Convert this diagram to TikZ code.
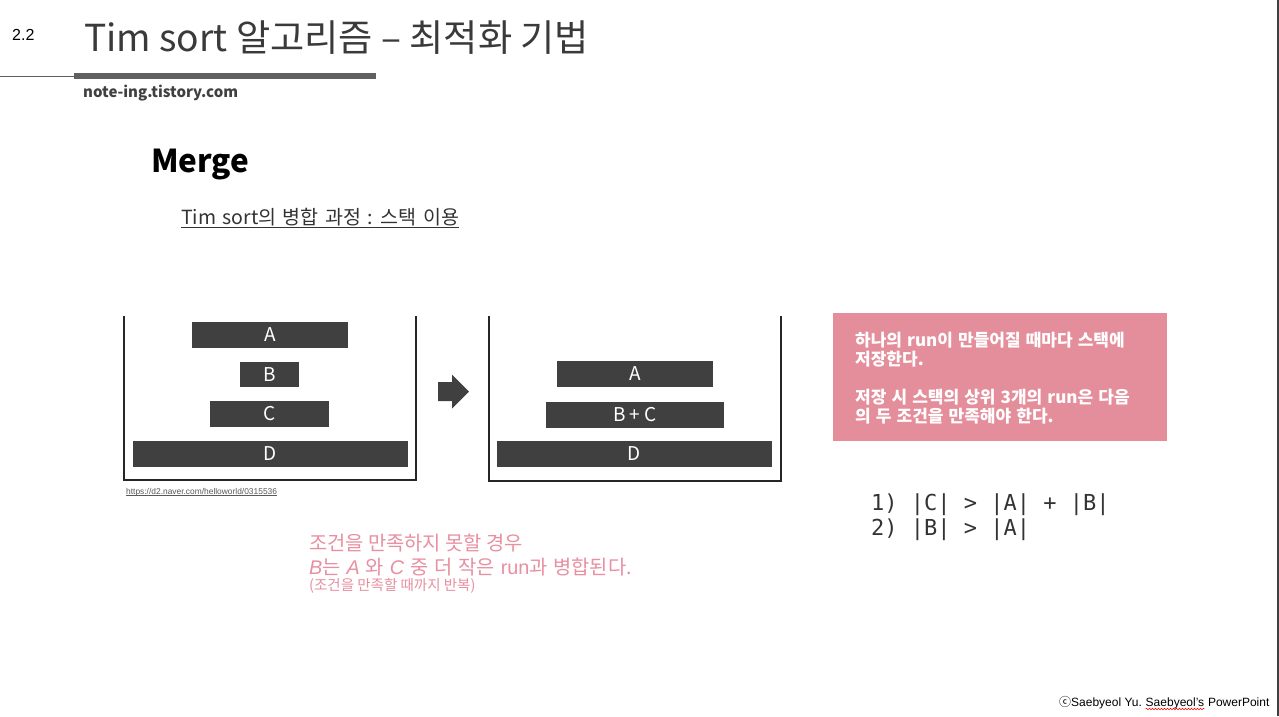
\documentclass[tikz,border=0pt]{standalone}
\usepackage{fontspec}
\setmainfont{Noto Sans CJK KR}
\newfontfamily\kr{Noto Sans CJK KR}
\newfontfamily\arial{Liberation Sans}
\newfontfamily\mono{DejaVu Sans Mono}
\usetikzlibrary{decorations.pathmorphing}
\definecolor{barc}{HTML}{404040}
\definecolor{pinkbox}{HTML}{E48D9B}
\definecolor{pinktxt}{HTML}{E88FA0}
\definecolor{titlec}{HTML}{3A3A3A}
\definecolor{rulec}{HTML}{606060}
\newcommand{\fs}[1]{\fontsize{#1pt}{#1pt}\selectfont}
\newcommand{\wsp}[1]{\spaceskip=#1\relax}
\tikzset{
  runbar/.style={fill=barc, draw=none, inner sep=0pt, text=white, font=\kr\fs{19}},
  stackbox/.style={line width=1.8pt, draw=black!85},
  txt/.style={anchor=base west, inner sep=0pt},
  pinkline/.style={txt, text=white, font=\kr\bfseries\fs{17}},
  condline/.style={txt, text=black!80, font=\mono\fs{22}},
  notetxt/.style={txt, text=pinktxt},
  foottxt/.style={txt, font=\arial\fs{12}},
}
\begin{document}
\begin{tikzpicture}[x=1pt,y=-1pt]
\useasboundingbox (0,0) rectangle (1279,716);
\fill[white] (0,0) rectangle (1279,716);
\draw[black!75, line width=1.2pt] (1278,0) -- (1278,716);

% header
\node[txt, font=\arial\fs{16}] (num) at (12,40) {2.2};
\node[txt, text=titlec, font=\kr\fs{37.2}] (title) at (84,51) {Tim sort 알고리즘 – 최적화 기법};
\draw[rulec, line width=0.8pt] (0,76) -- (75,76);
\fill[rulec] (74,73) rectangle (376,78.5);
\node[txt, text=black!75, font=\kr\bfseries\fs{15}] (blog) at (83,97) {note-ing.tistory.com};

\node[txt, font=\kr\bfseries\fs{31.5}] (merge) at (151,172) {Merge};
\node[txt, text=black!80, font=\kr\fs{19.5}] (sub) at (181,224) {\wsp{0.33em}Tim sort의 병합 과정 : 스택 이용};
\draw[black!80, line width=1pt] ([yshift=-3.5pt]sub.base west) -- ([yshift=-3.5pt]sub.base east);

% left stack
\draw[stackbox] (124,316) -- (124,480) -- (416,480) -- (416,316);
\node[runbar, minimum width=156pt, minimum height=26pt] (a1) at (270,335) {A};
\node[runbar, minimum width=59pt, minimum height=25pt] (b1) at (269.5,374.5) {B};
\node[runbar, minimum width=119pt, minimum height=26pt] (c1) at (269.5,414) {C};
\node[runbar, minimum width=275pt, minimum height=26pt] (d1) at (270.5,454) {D};
\node[txt, text=black!65, font=\arial\fs{8.4}] (url) at (126,494) {https://d2.naver.com/helloworld/0315536};
\draw[black!65, line width=0.4pt] ([yshift=-1.2pt]url.base west) -- ([yshift=-1.2pt]url.base east);

% arrow
\fill[barc] (438,382) -- (452,382) -- (452,374.5) -- (469,391.5) -- (452,408.5) -- (452,401) -- (438,401) -- cycle;

% right stack
\draw[stackbox] (489,316) -- (489,481) -- (781,481) -- (781,316);
\node[runbar, minimum width=156pt, minimum height=26pt] (a2) at (635,374) {A};
\node[runbar, minimum width=178pt, minimum height=26pt] (bc2) at (635,415) {B + C};
\node[runbar, minimum width=275pt, minimum height=26pt] (d2) at (634.5,454) {D};

% pink box
\fill[pinkbox] (833,313) rectangle (1167,441);
\node[pinkline] (p1) at (855,346) {\wsp{0.3em}하나의 run이 만들어질 때마다 스택에};
\node[pinkline] (p2) at (855,365) {저장한다.};
\node[pinkline] (p3) at (855,403) {\wsp{0.3em}저장 시 스택의 상위 3개의 run은 다음};
\node[pinkline] (p4) at (855,422) {\wsp{0.3em}의 두 조건을 만족해야 한다.};

% conditions
\node[condline] (c1l) at (871,510) {1) |C| > |A| + |B|};
\node[condline] (c2l) at (871,535) {2) |B| > |A|};

% note
\node[notetxt, font=\kr\fs{19.8}] (n1) at (309,550) {조건을 만족하지 못할 경우};
\node[notetxt, font=\kr\fs{19.8}] (n2) at (309,574) {\wsp{0.3em}{\arial\itshape B}는 {\arial\itshape A} 와 {\arial\itshape C} 중 더 작은 {\arial run}과 병합된다.};
\node[notetxt, font=\kr\fs{14.5}] (n3) at (309,590) {(조건을 만족할 때까지 반복)};

% footer
\node[foottxt] (f1) at (1059,706) {{\kr\fs{12}ⓒ}Saebyeol Yu.};
\node[foottxt] (f2) at ([xshift=3.4pt]f1.base east) {Saebyeol’s};
\node[foottxt] (f3) at ([xshift=3.4pt]f2.base east) {PowerPoint};
\draw[red, line width=0.5pt, decorate, decoration={snake, amplitude=0.8pt, segment length=3pt}] ([yshift=-3pt]f2.base west) -- ([yshift=-3pt]f2.base east);
\end{tikzpicture}
\end{document}
